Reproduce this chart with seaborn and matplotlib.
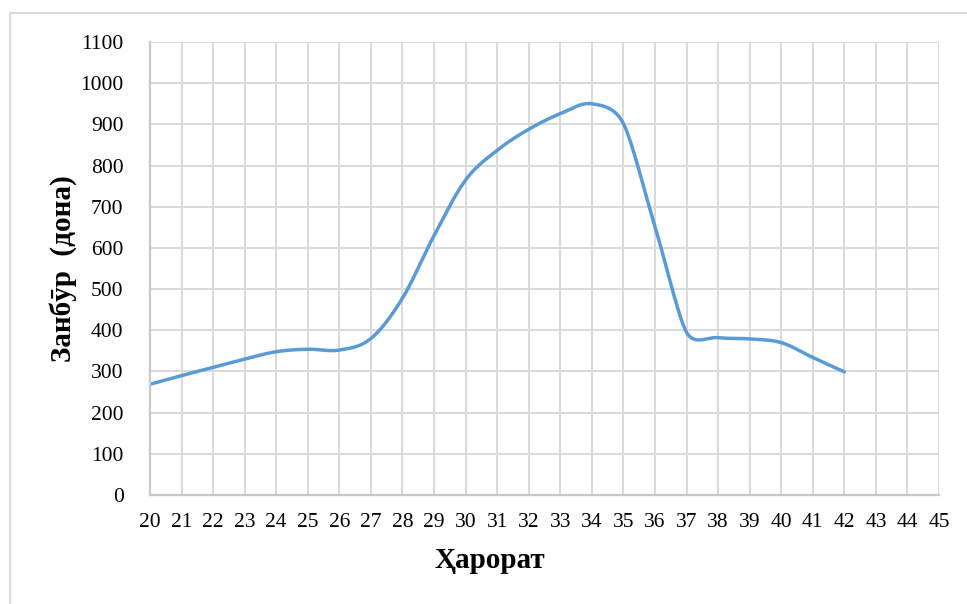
import numpy as np
import pandas as pd
import matplotlib
matplotlib.use("Agg")
import matplotlib.pyplot as plt
from matplotlib.lines import Line2D
import seaborn as sns

# Temperature (°C) and hornet counts
temperature = [20, 21, 22, 23, 24, 25, 26, 27, 28, 29, 30, 31,
               32, 33, 34, 35, 36, 37, 38, 39, 40, 41, 42]
hornets = [269, 290, 310, 330, 348, 354, 352, 380, 478, 630, 765, 837,
           888, 926, 950, 902, 652, 395, 382, 379, 370, 334, 299]

x_ticks = list(range(20, 46))
y_ticks = list(range(0, 1101, 100))

W, H = 967, 604
AX_LEFT, AX_RIGHT, AX_TOP, AX_BOTTOM = 150, 939, 42, 495
X_MIN, X_MAX, Y_MIN, Y_MAX = 20, 45, 0, 1100


def smooth_curve(xs, ys, sx, sy, steps=40):
    """Spreadsheet-style smoothed line: cubic Bezier segments with
    Catmull-Rom handles (1/6 of the neighbour chord), shortened so a handle
    never exceeds half of the adjacent segment length on screen."""
    xs = np.asarray(xs, float)
    ys = np.asarray(ys, float)
    pts = np.column_stack([xs, ys])
    scale = np.array([sx, sy])
    n = len(pts)

    def dist(a, b):
        return np.hypot(*((pts[a] - pts[b]) * scale))

    tang, fac = [], []
    for i in range(n):
        i0, i2 = max(i - 1, 0), min(i + 1, n - 1)
        T = pts[i2] - pts[i0]
        d02 = np.hypot(*(T * scale))
        f = 1.0 / 6.0
        if d02 > 0:
            lim = min(dist(i0, i) if i0 != i else np.inf,
                      dist(i, i2) if i2 != i else np.inf) / 2.0
            f = min(f, lim / d02)
        tang.append(T)
        fac.append(f)

    t = np.linspace(0, 1, steps)[:, None]
    px, py = [], []
    for i in range(n - 1):
        p0, p3 = pts[i], pts[i + 1]
        c1 = p0 + fac[i] * tang[i]
        c2 = p3 - fac[i + 1] * tang[i + 1]
        b = (1 - t) ** 3 * p0 + 3 * (1 - t) ** 2 * t * c1 \
            + 3 * (1 - t) * t ** 2 * c2 + t ** 3 * p3
        if i > 0:
            b = b[1:]
        px.extend(b[:, 0])
        py.extend(b[:, 1])
    return np.array(px), np.array(py)


px_per_x = (AX_RIGHT - AX_LEFT) / (X_MAX - X_MIN)
px_per_y = (AX_BOTTOM - AX_TOP) / (Y_MAX - Y_MIN)
cx, cy = smooth_curve(temperature, hornets, px_per_x, px_per_y)
curve = pd.DataFrame({"Ҳарорат": cx, "Занбӯр": cy})

sns.set_theme(style="white")
plt.rcParams["font.family"] = ["Liberation Serif", "DejaVu Serif"]

fig = plt.figure(figsize=(W / 100, H / 100), dpi=100)
ax = fig.add_axes([AX_LEFT / W, 1 - AX_BOTTOM / H,
                   (AX_RIGHT - AX_LEFT) / W, (AX_BOTTOM - AX_TOP) / H])

sns.lineplot(data=curve, x="Ҳарорат", y="Занбӯр", ax=ax,
             color="#5b9bd5", linewidth=2.5, sort=False, estimator=None)

ax.set_xlim(X_MIN, X_MAX)
ax.set_ylim(Y_MIN, Y_MAX)
ax.set_xticks(x_ticks)
ax.set_yticks(y_ticks)
ax.set_xticklabels([str(v) for v in x_ticks])
ax.set_yticklabels([str(v) for v in y_ticks])
ax.tick_params(axis="both", length=0, labelsize=15.5, colors="#000000")
ax.tick_params(axis="x", pad=13)
ax.tick_params(axis="y", pad=19)

ax.grid(True, color="#d9d9d9", linewidth=1.4)
ax.set_axisbelow(True)
for side in ["top", "right"]:
    ax.spines[side].set_visible(False)
for side in ["left", "bottom"]:
    ax.spines[side].set_color("#c8c8c8")
    ax.spines[side].set_linewidth(1.6)

ax.set_xlabel("Ҳарорат", fontsize=21, fontweight="bold", color="black")
ax.xaxis.set_label_coords((490 - AX_LEFT) / (AX_RIGHT - AX_LEFT), -0.115)
ax.set_ylabel("Занбӯр  (дона)", fontsize=21, fontweight="bold", color="black")
ax.yaxis.set_label_coords(-(AX_LEFT - 77) / (AX_RIGHT - AX_LEFT), 0.5)

# Chart-area frame
frame_kw = dict(color="#d9d9d9", linewidth=1.5, transform=fig.transFigure)
fig.add_artist(Line2D([10 / W, 1.0], [1 - 13 / H, 1 - 13 / H], **frame_kw))
fig.add_artist(Line2D([10 / W, 10 / W], [1 - 13 / H, 0.0], **frame_kw))

fig.savefig("out.png", dpi=100)
